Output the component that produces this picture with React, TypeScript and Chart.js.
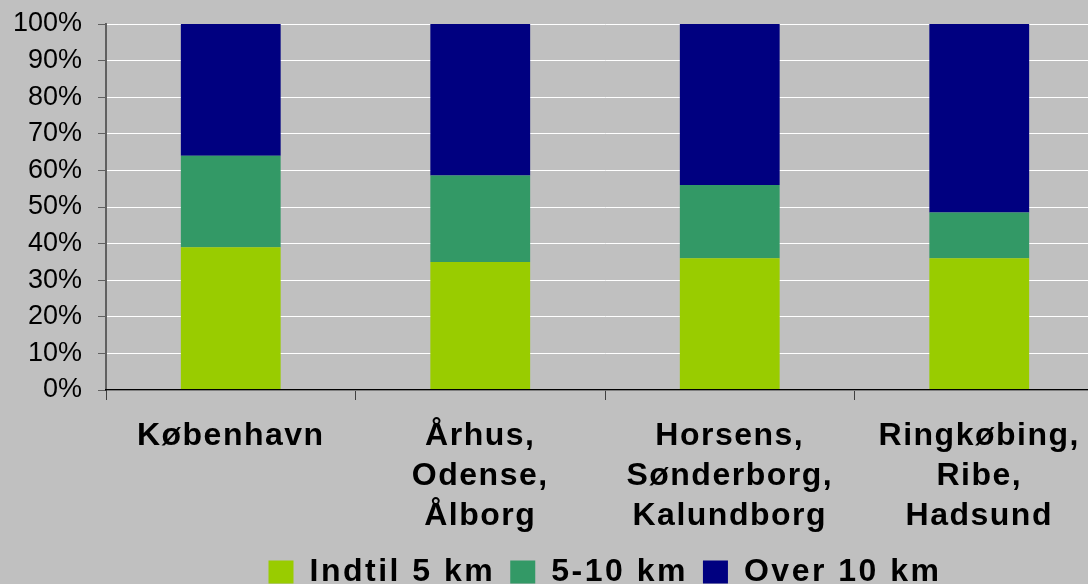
import React, { useEffect, useRef } from 'react';
import { Chart, registerables } from 'chart.js';

Chart.register(...registerables);

const categories: string[][] = [
  ['København'],
  ['Århus,', 'Odense,', 'Ålborg'],
  ['Horsens,', 'Sønderborg,', 'Kalundborg'],
  ['Ringkøbing,', 'Ribe,', 'Hadsund'],
];
const seriesNames = ['Indtil 5 km', '5-10 km', 'Over 10 km'];
const under5km = [39, 35, 36, 36];
const from5to10km = [25, 23.6, 20, 12.5];
const over10km = [36, 41.4, 44, 51.5];
const seriesColors = ['#99CC00', '#339966', '#000080'];
const yMin = 0;
const yMax = 100;
const yStep = 10;

const FONT = '"Liberation Sans", Arial, Helvetica, sans-serif';

function withSpacing(ctx: any, spacing: string, fn: () => any) {
  ctx.save();
  ctx.letterSpacing = spacing;
  try {
    return fn();
  } finally {
    ctx.restore();
  }
}

const spacingPlugin = {
  id: 'letterSpacingPatch',
  beforeUpdate(chart: any) {
    const legend = chart.legend;
    if (legend && !legend.__patched) {
      const origFit = legend.fit.bind(legend);
      const origDraw = legend.draw.bind(legend);
      legend.fit = () => withSpacing(chart.ctx, '2.5px', origFit);
      legend.draw = () => withSpacing(chart.ctx, '2.5px', origDraw);
      legend.__patched = true;
    }
  },
  beforeDraw(chart: any) {
    const x = chart.scales.x;
    if (x && !x.__patched) {
      const orig = x.drawLabels.bind(x);
      x.drawLabels = (area: any) => withSpacing(chart.ctx, '1.5px', () => orig(area));
      x.__patched = true;
    }
  },
};

export default function App() {
  const ref = useRef<HTMLCanvasElement | null>(null);

  useEffect(() => {
    if (!ref.current) return;
    const chart = new Chart(ref.current, {
      type: 'bar',
      data: {
        labels: categories,
        datasets: [
          { label: seriesNames[0], data: under5km, backgroundColor: seriesColors[0] },
          { label: seriesNames[1], data: from5to10km, backgroundColor: seriesColors[1] },
          { label: seriesNames[2], data: over10km, backgroundColor: seriesColors[2] },
        ].map((d) => ({ ...d, borderWidth: 0, barPercentage: 0.4, categoryPercentage: 1 })),
      },
      options: {
        responsive: false,
        animation: false,
        devicePixelRatio: 1,
        layout: { padding: { top: 24, left: 0, right: 0, bottom: 0 } },
        plugins: {
          tooltip: { enabled: false },
          legend: {
            position: 'bottom',
            fullSize: false,
            labels: {
              boxWidth: 25,
              boxHeight: 23,
              padding: 15,
              color: '#000000',
              font: { family: FONT, size: 32, weight: 'bold' },
            },
          },
        },
        scales: {
          x: {
            stacked: true,
            offset: true,
            afterFit: (s: any) => {
              s.height = 151;
              s.paddingLeft = 0;
              s.paddingRight = 0;
            },
            grid: {
              offset: true,
              drawOnChartArea: false,
              drawTicks: true,
              tickLength: 10,
              tickColor: '#404040',
              color: '#404040',
            },
            border: { display: true, color: '#000000', width: 1.5, z: 1 },
            ticks: {
              color: '#000000',
              padding: 16,
              maxRotation: 0,
              minRotation: 0,
              autoSkip: false,
              font: { family: FONT, size: 32, weight: 'bold', lineHeight: 1.25 },
            },
          },
          y: {
            stacked: true,
            min: yMin,
            max: yMax,
            afterFit: (s: any) => {
              s.width = 106;
              s.paddingTop = 0;
              s.paddingBottom = 0;
            },
            grid: {
              color: '#ffffff',
              lineWidth: 1,
              tickLength: 8,
              tickColor: '#606060',
            },
            border: { display: true, color: '#606060', width: 2 },
            ticks: {
              stepSize: yStep,
              autoSkip: false,
              color: '#000000',
              padding: 16,
              font: { family: FONT, size: 27 },
              callback: (v: any) => `${v}%`,
            },
          },
        },
      },
      plugins: [spacingPlugin as any],
    });
    return () => chart.destroy();
  }, []);

  return (
    <div
      style={{
        position: 'fixed',
        left: 0,
        top: 0,
        width: 1088,
        height: 584,
        overflow: 'hidden',
        background: '#c0c0c0',
      }}
    >
      <canvas ref={ref} width={1104} height={598} style={{ display: 'block', width: 1104, height: 598 }} />
    </div>
  );
}
